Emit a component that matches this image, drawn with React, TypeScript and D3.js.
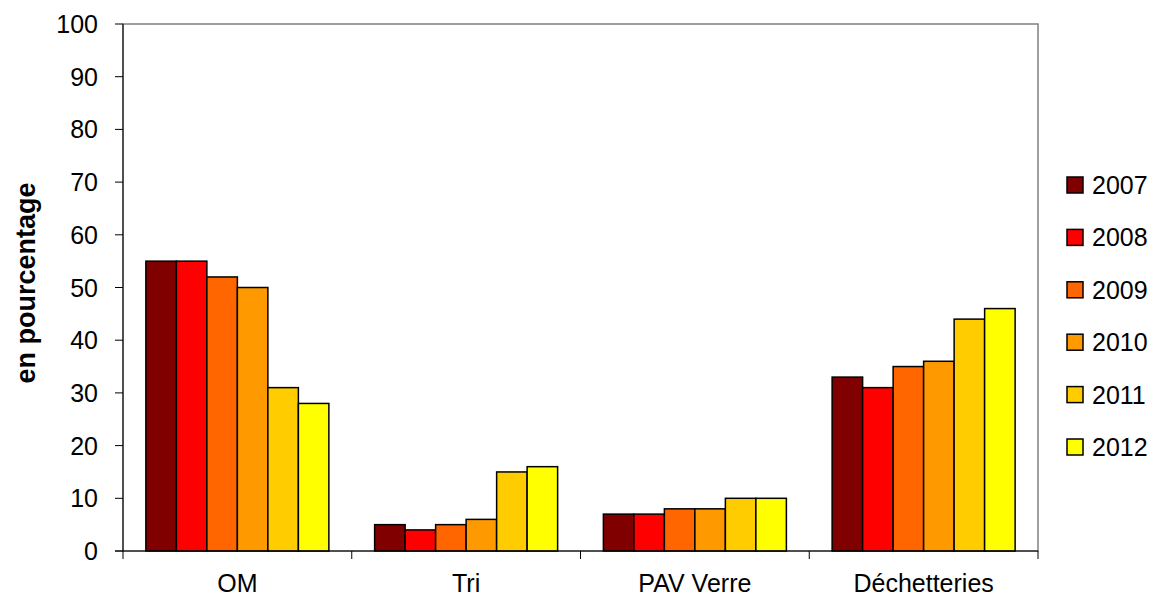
import React from "react";
import * as d3 from "d3";

const categories = ["OM", "Tri", "PAV Verre", "Déchetteries"];
const years = ["2007", "2008", "2009", "2010", "2011", "2012"];
const colors = ["#800000", "#FF0000", "#FF6600", "#FF9900", "#FFCC00", "#FFFF00"];
const v2007 = [55, 5, 7, 33];
const v2008 = [55, 4, 7, 31];
const v2009 = [52, 5, 8, 35];
const v2010 = [50, 6, 8, 36];
const v2011 = [31, 15, 10, 44];
const v2012 = [28, 16, 10, 46];
const series = [v2007, v2008, v2009, v2010, v2011, v2012];
const yTicks = [0, 10, 20, 30, 40, 50, 60, 70, 80, 90, 100];
const yLabel = "en pourcentage";

const W = 1156, H = 601;
const L = 123, R = 1038, T = 24, B = 551;
const font = "Liberation Sans, Arial, sans-serif";

export default function App() {
  const x0 = d3.scaleBand().domain(categories).range([L, R]).paddingInner(0).paddingOuter(0);
  const bw = x0.bandwidth() / (years.length + 1.5);
  const x1 = d3.scaleBand().domain(years).range([0, bw * years.length]);
  const y = d3.scaleLinear().domain([0, 100]).range([B, T]);
  const off = bw * 0.75;
  return (
    <svg width={W} height={H} style={{ position: "absolute", left: 0, top: 0, background: "#fff" }}>
      <rect x={L} y={T} width={R - L} height={B - T} fill="none" stroke="#808080" strokeWidth={1.5} />
      {categories.map((c, ci) =>
        years.map((yr, si) => (
          <rect key={c + yr} x={x0(c)! + off + x1(yr)!} y={y(series[si][ci])}
            width={x1.bandwidth()} height={B - y(series[si][ci])}
            fill={colors[si]} stroke="#000" strokeWidth={1.5} />
        ))
      )}
      <line x1={L} x2={L} y1={T} y2={B} stroke="#000" strokeWidth={1} />
      <line x1={L - 8} x2={R} y1={B} y2={B} stroke="#000" strokeWidth={1} />
      {yTicks.map(t => (
        <g key={t}>
          <line x1={L - 8} x2={L} y1={y(t)} y2={y(t)} stroke="#000" />
          <text x={98} y={y(t)} dy="0.36em" textAnchor="end" fontFamily={font} fontSize={25}>{t}</text>
        </g>
      ))}
      {categories.map(c => (
        <line key={"t" + c} x1={x0(c)!} x2={x0(c)!} y1={B} y2={B + 8} stroke="#000" />
      ))}
      <line x1={R} x2={R} y1={B} y2={B + 8} stroke="#000" />
      {categories.map(c => (
        <text key={"l" + c} x={x0(c)! + x0.bandwidth() / 2} y={592} textAnchor="middle" fontFamily={font} fontSize={25}>{c}</text>
      ))}
      <text transform={`translate(35,283) rotate(-90)`} textAnchor="middle" fontFamily={font} fontSize={27} fontWeight="bold">{yLabel}</text>
      {years.map((yr, i) => (
        <g key={"lg" + yr} transform={`translate(1067,${185 + i * 52.4})`}>
          <rect x={0} y={-8} width={16} height={16} fill={colors[i]} stroke="#000" strokeWidth={1.5} />
          <text x={25} y={0} dy="0.36em" fontFamily={font} fontSize={25}>{yr}</text>
        </g>
      ))}
    </svg>
  );
}
